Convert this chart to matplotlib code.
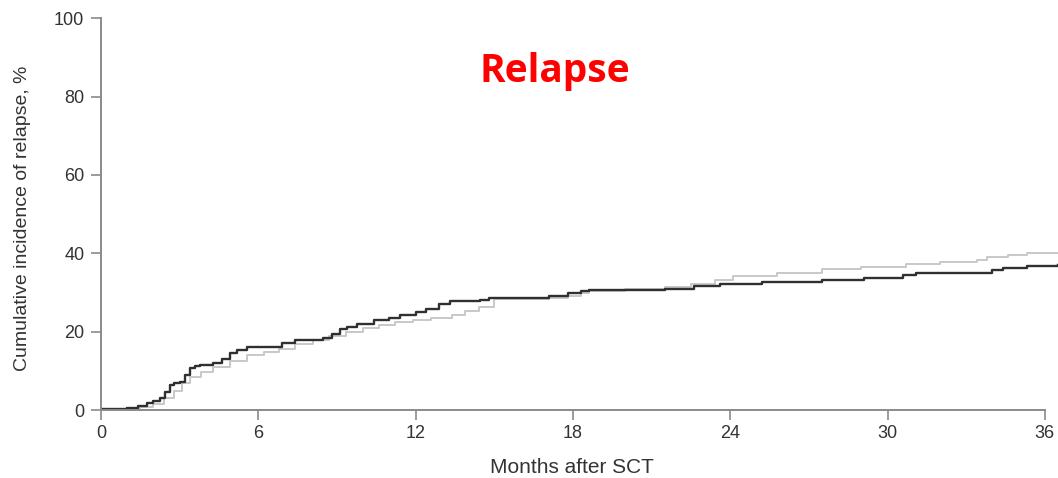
import matplotlib
matplotlib.use("Agg")
import matplotlib.pyplot as plt

# cumulative incidence curves (month, %)
black_t = [0, 1.0, 1.4, 1.75, 2.0, 2.25, 2.45, 2.63, 2.8, 3.0, 3.2, 3.39, 3.6, 3.78, 4.28, 4.6,
           4.92, 5.2, 5.56, 6.7, 6.9, 7.4, 8.48, 8.8, 9.1, 9.4, 9.75, 10.4, 11.0, 11.4,
           12.0, 12.4, 12.9, 13.3, 14.45, 14.8, 17.1, 17.8, 18.3, 18.6, 21.5, 22.6,
           23.6, 25.2, 27.5, 29.1, 30.6, 31.1, 34.0, 34.4, 35.3, 36.5]
black_v = [0.3, 0.5, 1.0, 1.7, 2.3, 3.0, 4.6, 6.4, 6.8, 7.2, 9.0, 10.7, 11.2, 11.5, 11.9, 13.0,
           14.5, 15.3, 16.0, 16.2, 17.2, 17.8, 18.3, 19.5, 20.6, 21.3, 22.1, 23.1, 23.6, 24.2,
           25.0, 25.9, 27.0, 27.9, 28.0, 28.7, 29.1, 29.8, 30.4, 30.6, 31.0, 31.6,
           32.1, 32.7, 33.3, 33.8, 34.4, 35.0, 35.7, 36.3, 36.7, 37.0]

gray_t = [0, 1.0, 1.5, 2.0, 2.4, 2.8, 3.1, 3.39, 3.8, 4.28, 4.9, 5.56, 6.2, 6.8, 7.4,
          8.1, 8.7, 9.35, 10.0, 10.6, 11.2, 11.9, 12.6, 13.4, 13.9, 14.4, 15.0, 17.1, 17.8,
          18.3, 18.6, 20.0, 21.5, 22.5, 23.4, 24.1, 25.8, 27.5, 29.0, 30.7, 32.0, 33.4,
          33.8, 34.6, 35.3, 36.5]
gray_v = [0.2, 0.4, 0.9, 1.6, 3.0, 5.0, 6.8, 8.5, 9.8, 11.0, 12.6, 14.0, 14.9, 15.7, 16.8,
          17.9, 19.0, 20.0, 20.9, 21.7, 22.4, 23.0, 23.6, 24.2, 25.3, 26.4, 28.3, 28.6, 29.2,
          29.8, 30.4, 30.8, 31.3, 32.2, 33.2, 34.2, 35.0, 35.9, 36.6, 37.4, 37.8, 38.3,
          39.0, 39.5, 40.0, 40.2]

x_ticks = [0, 6, 12, 18, 24, 30, 36]
y_ticks = [0, 20, 40, 60, 80, 100]

plt.rcParams['font.family'] = ['Liberation Sans', 'DejaVu Sans']

fig = plt.figure(figsize=(10.58, 4.78), dpi=100)
ax = fig.add_axes([0.0955, 0.142, 1 - 0.0955, 0.962 - 0.142])

ax.step(gray_t, gray_v, where='post', color='#c8c8c8', lw=1.4)
ax.step(black_t, black_v, where='post', color='#303030', lw=1.7)

ax.set_xlim(0, 36.5)
ax.set_ylim(0, 100)
ax.set_xticks(x_ticks)
ax.set_yticks(y_ticks)
ax.spines['top'].set_visible(False)
ax.spines['right'].set_visible(False)
ax.spines['bottom'].set_bounds(0, 36)
for s in ['left', 'bottom']:
    ax.spines[s].set_color('#8a8a8a')
    ax.spines[s].set_linewidth(1.4)
ax.tick_params(direction='out', length=7, width=1.2, color='#8a8a8a',
               labelsize=13, labelcolor='#333333')
ax.tick_params(axis='y', pad=5)
ax.tick_params(axis='x', pad=4)

ax.set_xlabel('Months after SCT', fontsize=15, color='#333333')
ax.set_ylabel('Cumulative incidence of relapse, %', fontsize=14, color='#333333')
ax.xaxis.set_label_coords((572 - 101) / (1058 - 101), -(467 - 410) / 392, transform=None)
ax.xaxis.label.set_va('center')
ax.yaxis.label.set_va('center')
ax.yaxis.set_label_coords(-(101 - 22) / 957, (410 - 218) / 392)

ax.text(17.3, 86.5, 'Relapse', color='#ff0000', fontsize=28, fontweight='bold',
        family=['Open Sans', 'DejaVu Sans'], ha='center', va='center')

fig.savefig('out.png', dpi=100)
